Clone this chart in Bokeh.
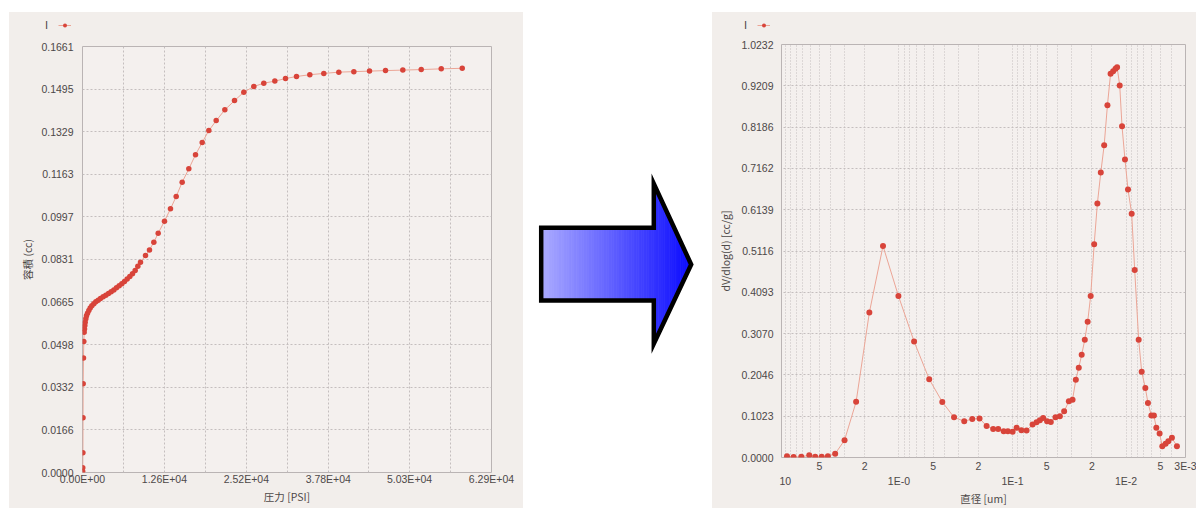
import numpy as np
from bokeh.plotting import figure
from bokeh.models import Range1d, FixedTicker, LogAxis, Legend, LegendItem, Spacer
from bokeh.layouts import row, column
from bokeh.embed import file_html
from bokeh.resources import INLINE

# ---------------- Left chart: intrusion volume vs pressure ----------------
pressure_psi = [20, 40, 60, 80, 100, 150, 200,
                257, 308, 358, 411, 512, 615, 769, 974, 1180, 1435, 1743, 2050, 2410, 2768,
                3179, 3588, 3999, 4409, 4819, 5229, 5640, 6049, 6460, 6870, 7280, 7690, 8100,
                8510, 8920,
                9690, 10300, 10970, 11640, 12610, 13530, 14410, 15330, 16350, 17380, 18410,
                19430, 20560, 21890, 23380, 24810, 26350, 27880, 29580, 31220, 32910, 34960,
                37110, 39420, 41730, 44140, 46600, 49260, 52090, 55170, 58400]
volume_cc = [0.0005, 0.0019, 0.0077, 0.0213, 0.0346, 0.0446, 0.0511,
             0.0547, 0.0560, 0.0573, 0.0586, 0.0599, 0.0611, 0.0621, 0.0632, 0.0641, 0.0650,
             0.0658, 0.0666, 0.0672, 0.0678, 0.0685, 0.0691, 0.0698, 0.0705, 0.0712, 0.0720,
             0.0728, 0.0736, 0.0745, 0.0754, 0.0764, 0.0775, 0.0788, 0.0804, 0.0820,
             0.0846, 0.0868, 0.0898, 0.0933, 0.0980, 0.1028, 0.1076, 0.1132, 0.1184, 0.1239,
             0.1287, 0.1333, 0.1372, 0.1414, 0.1450, 0.1483, 0.1505, 0.1518, 0.1526, 0.1536,
             0.1544, 0.1551, 0.1556, 0.1561, 0.1563, 0.1565, 0.1567, 0.1569, 0.1571, 0.1574,
             0.1576]
left_xtick_values = [0, 12600, 25200, 37800, 50300, 62900]
left_xtick_labels = ["0.00E+00", "1.26E+04", "2.52E+04", "3.78E+04", "5.03E+04", "6.29E+04"]
left_ytick_labels = ["0.0000", "0.0166", "0.0332", "0.0498", "0.0665", "0.0831",
                     "0.0997", "0.1163", "0.1329", "0.1495", "0.1661"]
left_xlabel = "圧力 [PSI]"
left_ylabel = "容積 (cc)"

# ---------------- Right chart: dV/dlog(d) vs diameter ----------------
diameter_um = [9.66, 8.45, 7.23, 6.15, 5.45, 4.78, 4.22, 3.64, 3.01, 2.38, 1.82, 1.38, 1.01,
               0.735, 0.541, 0.415, 0.327, 0.266, 0.226, 0.195, 0.169, 0.148, 0.1336, 0.1195,
               0.1098, 0.0998, 0.0920, 0.0835, 0.0752, 0.0666, 0.0614, 0.0574, 0.0537, 0.0496,
               0.0460, 0.0418, 0.0383, 0.0351, 0.0319, 0.0296, 0.0277, 0.0261, 0.0246, 0.0231,
               0.0218, 0.0205, 0.0191, 0.0179, 0.0167, 0.0156, 0.0146, 0.0137, 0.0130, 0.0124,
               0.0120, 0.01138, 0.01086, 0.01023, 0.00962, 0.00893, 0.00840, 0.00775, 0.00729,
               0.00677, 0.00642, 0.00599, 0.00569, 0.00542, 0.00507, 0.00480, 0.00449, 0.00425,
               0.00395, 0.00357]
dv_dlogd = [0.0032, 0.0012, 0.0017, 0.0057, 0.0017, 0.0017, 0.0032, 0.0094, 0.0428, 0.1379,
            0.3591, 0.5240, 0.4004, 0.2874, 0.1940, 0.1377, 0.0996, 0.0897, 0.0956, 0.0964,
            0.0783, 0.0709, 0.0709, 0.0648, 0.0650, 0.0635, 0.0734, 0.0675, 0.0667, 0.0816,
            0.0872, 0.0922, 0.0981, 0.0897, 0.0882, 0.0996, 0.1021, 0.1144, 0.1391, 0.1433,
            0.1928, 0.2224, 0.2546, 0.2916, 0.3361, 0.4004, 0.5282, 0.6295, 0.7061, 0.7736,
            0.8724, 0.9508, 0.9572, 0.9631, 0.9671, 0.9219, 0.8205, 0.7382, 0.6641, 0.6038,
            0.4646, 0.2916, 0.2125, 0.1723, 0.1352, 0.1038, 0.1038, 0.0734, 0.0593, 0.0279,
            0.0339, 0.0403, 0.0487, 0.0279]
right_ytick_labels = ["0.0000", "0.1023", "0.2046", "0.3070", "0.4093", "0.5116",
                      "0.6139", "0.7162", "0.8186", "0.9209", "1.0232"]
right_major_ticks = [10, 1, 0.1, 0.01]
right_major_labels = ["10", "1E-0", "1E-1", "1E-2"]
right_minor_ticks = [5, 2, 0.5, 0.2, 0.05, 0.02, 0.005, 0.003]
right_minor_labels = ["5", "2", "5", "2", "5", "2", "5", "3E-3"]
right_xlabel = "直径 [um]"
right_ylabel = "dV/dlog(d) [cc/g]"
series_name = "I"

# arrow outline (page pixel space of the middle panel)
ARROW_X = [540.7, 653.3, 653.3, 690.7, 653.3, 653.3, 540.7]
ARROW_Y = [227.3, 227.3, 183.3, 264.0, 343.3, 300.0, 300.0]

NUM_FONT = "Liberation Sans"
CJK_FONT = "Noto Sans CJK JP"
TEXT_COL = "#4d4848"
PAPER = "#f2eeeb"
PLOT_BG = "#f4f0ee"
GRID_COL = "#c4bebe"
FRAME_COL = "#bab4b4"
DOT_COL = "#d8443a"
LINE_COL = "#eba596"

FIG_H = 496
LEG_H = 22


def style_axis(ax, standoff, label_standoff=4):
    ax.major_label_text_font = NUM_FONT
    ax.major_label_text_font_size = "10.5px"
    ax.major_label_text_color = TEXT_COL
    ax.axis_label_text_font = CJK_FONT
    ax.axis_label_text_font_size = "10.5px"
    ax.axis_label_text_font_style = "normal"
    ax.axis_label_text_color = TEXT_COL
    ax.major_tick_line_color = None
    ax.minor_tick_line_color = None
    ax.major_tick_out = 0
    ax.major_tick_in = 0
    ax.minor_tick_out = 0
    ax.minor_tick_in = 0
    ax.axis_line_color = None
    ax.major_label_standoff = standoff
    ax.axis_label_standoff = label_standoff


def legend_strip(width, xs, ys, start_x, size):
    """A thin paper-coloured strip above a chart that carries its legend:
    the series name first, then its line+marker glyph (as in the original)."""
    f = figure(width=width, height=LEG_H, output_backend="svg", toolbar_location=None,
               x_axis_type=None, y_axis_type=None, min_border=0, frame_align=False,
               background_fill_color=PAPER, border_fill_color=PAPER, outline_line_color=None)
    f.xgrid.visible = False
    f.ygrid.visible = False
    blank = f.scatter(xs, ys, size=size, fill_alpha=0, line_alpha=0, visible=False)
    ln = f.line(xs, ys, line_color=LINE_COL, line_width=1, visible=False)
    sc = f.scatter(xs, ys, size=size, fill_color=DOT_COL, line_color=None, visible=False)
    leg = Legend(items=[LegendItem(label=series_name, renderers=[blank]),
                        LegendItem(label="", renderers=[ln, sc])],
                 location=(start_x, 3), orientation="horizontal",
                 glyph_width=13, glyph_height=10, label_height=10, label_width=0,
                 label_standoff=2, padding=0, margin=0, spacing=10,
                 border_line_color=None, background_fill_alpha=0,
                 label_text_font=NUM_FONT, label_text_font_size="11px",
                 label_text_color=TEXT_COL)
    f.add_layout(leg)
    return f


# ---------------- left figure ----------------
left_yvals = [float(s) for s in left_ytick_labels]
P1_H = FIG_H - LEG_H
p1 = figure(width=514, height=P1_H,
            x_range=Range1d(left_xtick_values[0], left_xtick_values[-1]),
            y_range=Range1d(left_yvals[0], left_yvals[-1]),
            output_backend="svg", toolbar_location=None, frame_align=False,
            min_border_left=73, min_border_right=32, min_border_top=12,
            min_border_bottom=P1_H - 12 - 426,
            background_fill_color=PLOT_BG, border_fill_color=PAPER,
            outline_line_color=FRAME_COL)
p1.line(pressure_psi, volume_cc, line_color=LINE_COL, line_width=1)
p1.scatter(pressure_psi, volume_cc, size=5.5, fill_color=DOT_COL, line_color=None)

halves = [(a + b) / 2 for a, b in zip(left_xtick_values[:-1], left_xtick_values[1:])]
xa = p1.xaxis[0]
xa.ticker = FixedTicker(ticks=left_xtick_values, minor_ticks=halves)
xa.major_label_overrides = dict(zip(left_xtick_values, left_xtick_labels))
xa.axis_label = left_xlabel
style_axis(xa, 0, 1)
ya = p1.yaxis[0]
ya.ticker = FixedTicker(ticks=left_yvals)
ya.major_label_overrides = dict(zip(left_yvals, left_ytick_labels))
ya.axis_label = left_ylabel
style_axis(ya, 9, 3)
for g in (p1.xgrid[0], p1.ygrid[0]):
    g.grid_line_color = GRID_COL
    g.grid_line_dash = "2 2"
p1.xgrid[0].minor_grid_line_color = GRID_COL
p1.xgrid[0].minor_grid_line_dash = "2 2"
leg1 = legend_strip(514, pressure_psi, volume_cc, 21, 5.5)

# ---------------- middle (arrow) ----------------
pm = figure(width=189, height=FIG_H, x_range=Range1d(523, 712), y_range=Range1d(12 + FIG_H, 12),
            output_backend="svg", toolbar_location=None, frame_align=False,
            x_axis_type=None, y_axis_type=None, min_border=0,
            background_fill_color="white", border_fill_color="white",
            outline_line_color=None)
pm.xgrid.visible = False
pm.ygrid.visible = False
x0, xb, xt = ARROW_X[0], ARROW_X[1], ARROW_X[3]
ytop_s, ybot_s = ARROW_Y[0], ARROW_Y[5]
yhead_t, yhead_b, ytip = ARROW_Y[2], ARROW_Y[4], ARROW_Y[3]


def half_bounds(x):
    if x <= xb:
        return ytop_s, ybot_s
    f = (x - xb) / (xt - xb)
    return yhead_t + f * (ytip - yhead_t), yhead_b + f * (ytip - yhead_b)


edges = np.concatenate([np.linspace(x0, xb, 46), np.linspace(xb, xt, 18)[1:]])
sx, sy, cols = [], [], []
c_left = np.array([172, 172, 255])
c_right = np.array([12, 12, 255])
for a, b in zip(edges[:-1], edges[1:]):
    ta, ba = half_bounds(a)
    tb, bb = half_bounds(b)
    sx.append([a, b, b, a])
    sy.append([ta, tb, bb, ba])
    f = ((a + b) / 2 - x0) / (xt - x0)
    c = (c_left + f * (c_right - c_left)).astype(int)
    cols.append("#%02x%02x%02x" % tuple(c))
pm.patches(sx, sy, fill_color=cols, line_color=cols, line_width=0.8)
pm.patch(ARROW_X, ARROW_Y, fill_color=None, line_color="black", line_width=4.5,
         line_join="miter")

# ---------------- right figure ----------------
right_yvals = [float(s) for s in right_ytick_labels]
P2_H = FIG_H - LEG_H
p2 = figure(width=484, height=P2_H, x_axis_type="log",
            x_range=Range1d(10.8, right_minor_ticks[-1]),
            y_range=Range1d(right_yvals[0], right_yvals[-1]),
            output_backend="svg", toolbar_location=None, frame_align=False,
            min_border_left=69, min_border_right=11, min_border_top=10,
            min_border_bottom=P2_H - 10 - 414,
            background_fill_color=PLOT_BG, border_fill_color=PAPER,
            outline_line_color=FRAME_COL)
p2.line(diameter_um, dv_dlogd, line_color=LINE_COL, line_width=1)
p2.scatter(diameter_um, dv_dlogd, size=6, fill_color=DOT_COL, line_color=None)

xa2 = p2.xaxis[0]
xa2.ticker = FixedTicker(ticks=right_minor_ticks)
xa2.major_label_overrides = dict(zip(right_minor_ticks, right_minor_labels))
style_axis(xa2, 2, 0)
xb2 = LogAxis(ticker=FixedTicker(ticks=right_major_ticks),
              major_label_overrides=dict(zip(right_major_ticks, right_major_labels)),
              axis_label=right_xlabel)
style_axis(xb2, 0, 1)
p2.add_layout(xb2, "below")

ya2 = p2.yaxis[0]
ya2.ticker = FixedTicker(ticks=right_yvals)
ya2.major_label_overrides = dict(zip(right_yvals, right_ytick_labels))
ya2.axis_label = right_ylabel
style_axis(ya2, 8, 5)

grid_ticks = [k * 10.0 ** e for e in range(-3, 2) for k in range(1, 10)]
p2.xgrid[0].ticker = FixedTicker(ticks=grid_ticks)
p2.xgrid[0].grid_line_color = GRID_COL
p2.xgrid[0].grid_line_dash = "1 2"
p2.ygrid[0].grid_line_color = GRID_COL
p2.ygrid[0].grid_line_dash = "2 2"
leg2 = legend_strip(484, diameter_um, dv_dlogd, 17, 6)

left_col = column(leg1, p1, spacing=0, styles={"background-color": PAPER})
right_col = column(leg2, p2, spacing=0, styles={"background-color": PAPER})
layout = column(Spacer(height=12),
                row(Spacer(width=9), left_col, pm, right_col))

open("out.html", "w").write(file_html(layout, INLINE))
